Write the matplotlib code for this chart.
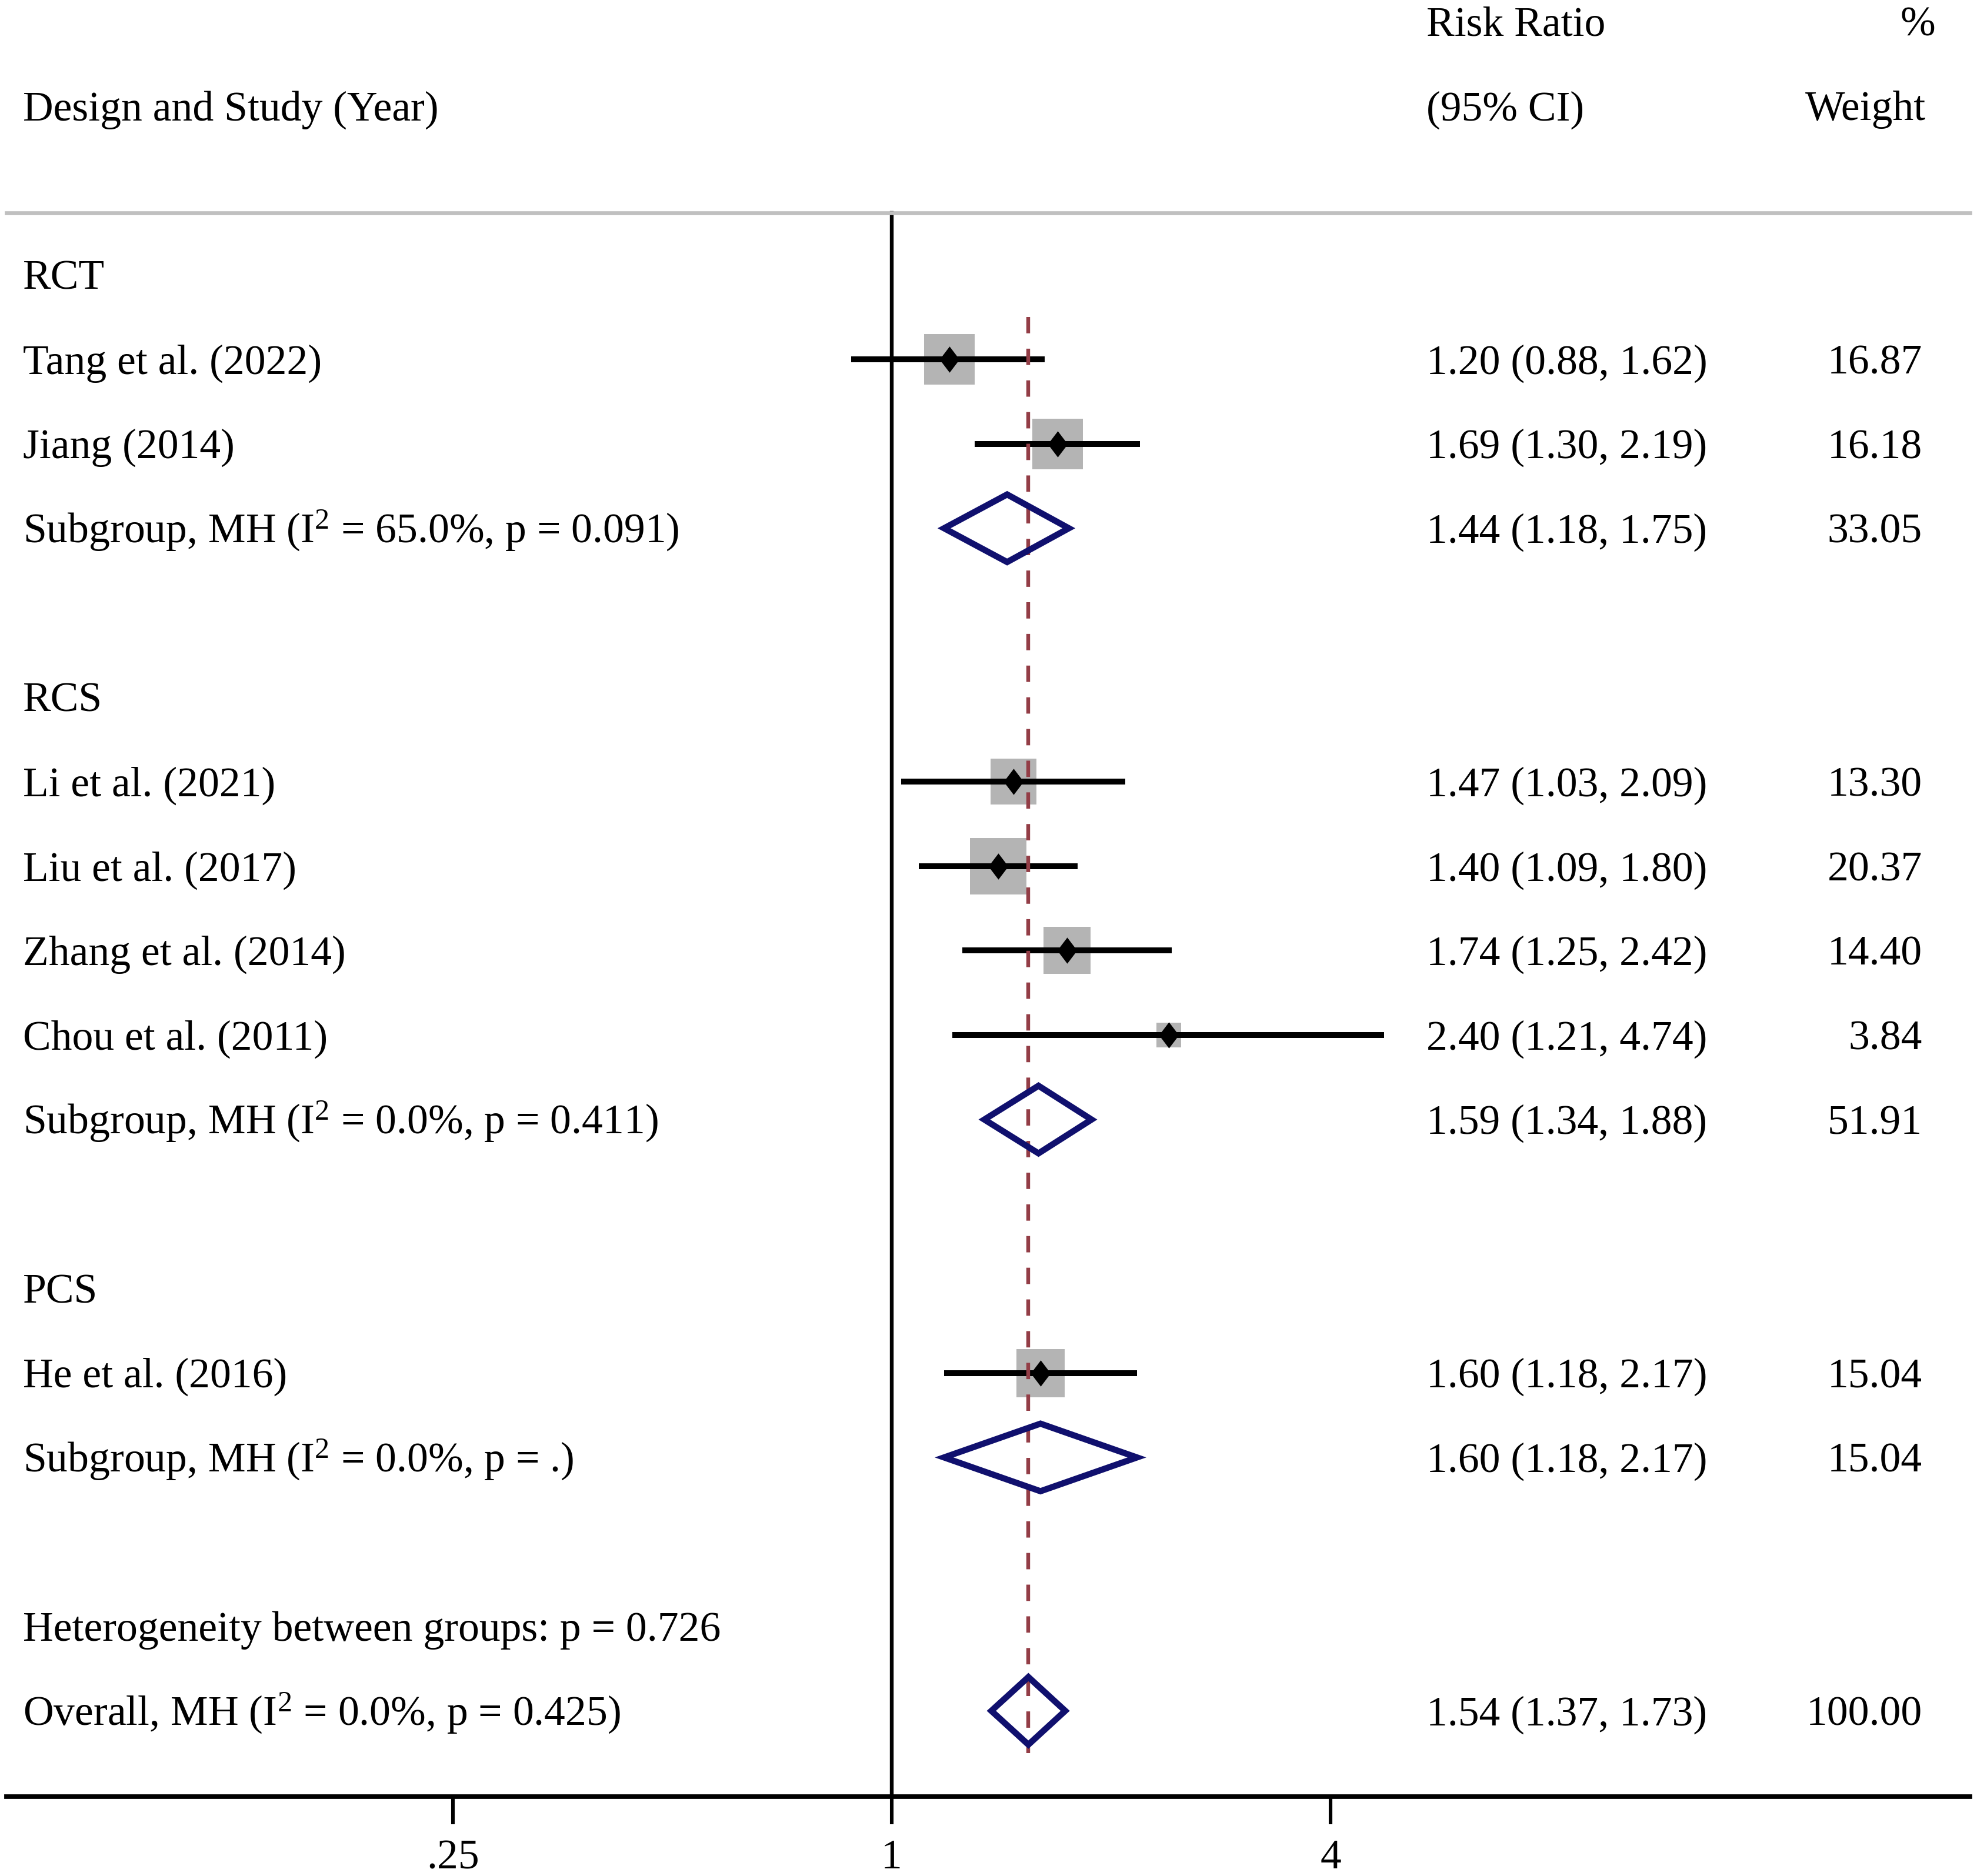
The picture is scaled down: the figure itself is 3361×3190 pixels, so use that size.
import numpy as np
import matplotlib
matplotlib.use('Agg')
import matplotlib.pyplot as plt
from matplotlib.transforms import blended_transform_factory
from matplotlib.patches import Polygon

plt.rcParams['font.family'] = ['Liberation Serif', 'DejaVu Serif']
plt.rcParams['mathtext.fontset'] = 'custom'
plt.rcParams['mathtext.rm'] = 'Liberation Serif'
plt.rcParams['mathtext.it'] = 'Liberation Serif:italic'

# studies
designs = ['RCT', 'RCS', 'PCS']
study_names = ['Tang et al. (2022)', 'Jiang (2014)',
               'Li et al. (2021)', 'Liu et al. (2017)', 'Zhang et al. (2014)', 'Chou et al. (2011)',
               'He et al. (2016)']
study_design = ['RCT', 'RCT', 'RCS', 'RCS', 'RCS', 'RCS', 'PCS']
rr = [1.20, 1.69, 1.47, 1.40, 1.74, 2.40, 1.60]
lo = [0.88, 1.30, 1.03, 1.09, 1.25, 1.21, 1.18]
hi = [1.62, 2.19, 2.09, 1.80, 2.42, 4.74, 2.17]
wt = [16.87, 16.18, 13.30, 20.37, 14.40, 3.84, 15.04]

# subgroups
sub_rr = [1.44, 1.59, 1.60]
sub_lo = [1.18, 1.34, 1.18]
sub_hi = [1.75, 1.88, 2.17]
sub_wt = [33.05, 51.91, 15.04]
sub_i2 = ['65.0', '0.0', '0.0']
sub_p = ['0.091', '0.411', '.']

het_p = '0.726'
ov_rr, ov_lo, ov_hi, ov_wt = 1.54, 1.37, 1.73, 100.00
ov_i2, ov_p = '0.0', '0.425'

xticks = [0.25, 1, 4]
xticklabels = ['.25', '1', '4']

FS = 25.8
navy = '#10106e'
maroon = '#933d46'

fig = plt.figure(figsize=(16.81, 15.95), dpi=200)
ax = fig.add_axes([5/1568, 1 - 1425/1488, 1557/1568, 1425/1488])
ax.set_xscale('log', base=2)
ax.set_xlim(2 ** ((5 - 707) / 174), 2 ** ((1562 - 707) / 174))
ax.set_ylim((1425 - 17) / 67, -17 / 67)
for s in ['top', 'left', 'right']:
    ax.spines[s].set_visible(False)
ax.spines['bottom'].set_linewidth(2.8)
ax.set_yticks([])
ax.set_xticks(xticks)
ax.set_xticklabels(xticklabels)
ax.xaxis.set_minor_locator(matplotlib.ticker.NullLocator())
ax.tick_params(axis='x', length=17, width=2.2, pad=9, labelsize=FS)

tr = blended_transform_factory(ax.transAxes, ax.transData)
x_lab, x_ci, x_wt = 0.00835, 0.7232, 0.9757
off = 0.17


def txt(x, r, s, ha='left'):
    ax.text(x, r + off, s, transform=tr, ha=ha, va='baseline', fontsize=FS, clip_on=False)


def diamond(r, est, l, h):
    hh = 0.40
    ax.add_patch(Polygon([(l, r), (est, r - hh), (h, r), (est, r + hh)], closed=True,
                         facecolor='none', edgecolor=navy, lw=3.8, joinstyle='miter', zorder=5))


# header
txt(x_ci, 0, 'Risk Ratio')
txt(0.9823, 0, '%', ha='right')
txt(x_lab, 1, 'Design and Study (Year)')
txt(x_ci, 1, '(95% CI)')
txt(0.9775, 1, 'Weight', ha='right')
gray_row = 2.27
ax.axhline(gray_row, color='#c0c0c0', lw=2.4, clip_on=False)

row = 3
first_row = row
for g, d in enumerate(designs):
    txt(x_lab, row, d)
    row += 1
    for i in range(len(study_names)):
        if study_design[i] != d:
            continue
        ax.plot([rr[i]], [row], marker='s', ms=7.62 * np.sqrt(wt[i]), color='#b4b4b4',
                mew=0, zorder=2)
        ax.plot([lo[i], hi[i]], [row, row], color='black', lw=3.6, solid_capstyle='butt', zorder=3)
        ax.plot([rr[i]], [row], marker=[(-0.38, 0), (0, 0.5), (0.38, 0), (0, -0.5), (-0.38, 0)],
                ms=16, color='black', mew=0, zorder=6)
        txt(x_lab, row, study_names[i])
        txt(x_ci, row, '%.2f (%.2f, %.2f)' % (rr[i], lo[i], hi[i]))
        txt(x_wt, row, '%.2f' % wt[i], ha='right')
        row += 1
    diamond(row, sub_rr[g], sub_lo[g], sub_hi[g])
    txt(x_lab, row, 'Subgroup, MH (I$^{2}$ = %s%%, p = %s)' % (sub_i2[g], sub_p[g]))
    txt(x_ci, row, '%.2f (%.2f, %.2f)' % (sub_rr[g], sub_lo[g], sub_hi[g]))
    txt(x_wt, row, '%.2f' % sub_wt[g], ha='right')
    row += 2

txt(x_lab, row, 'Heterogeneity between groups: p = %s' % het_p)
row += 1
diamond(row, ov_rr, ov_lo, ov_hi)
txt(x_lab, row, 'Overall, MH (I$^{2}$ = %s%%, p = %s)' % (ov_i2, ov_p))
txt(x_ci, row, '%.2f (%.2f, %.2f)' % (ov_rr, ov_lo, ov_hi))
txt(x_wt, row, '%.2f' % ov_wt, ha='right')

# null line and overall line
ax.plot([1, 1], [gray_row, ax.get_ylim()[0]], color='black', lw=2.3, zorder=1)
ax.plot([ov_rr, ov_rr], [first_row + 0.5, row + 0.5], color=maroon, lw=2.3,
        dashes=(10 / 2.3, 9.4 / 2.3), zorder=4)

fig.savefig('out.png', dpi=200, facecolor='white')
